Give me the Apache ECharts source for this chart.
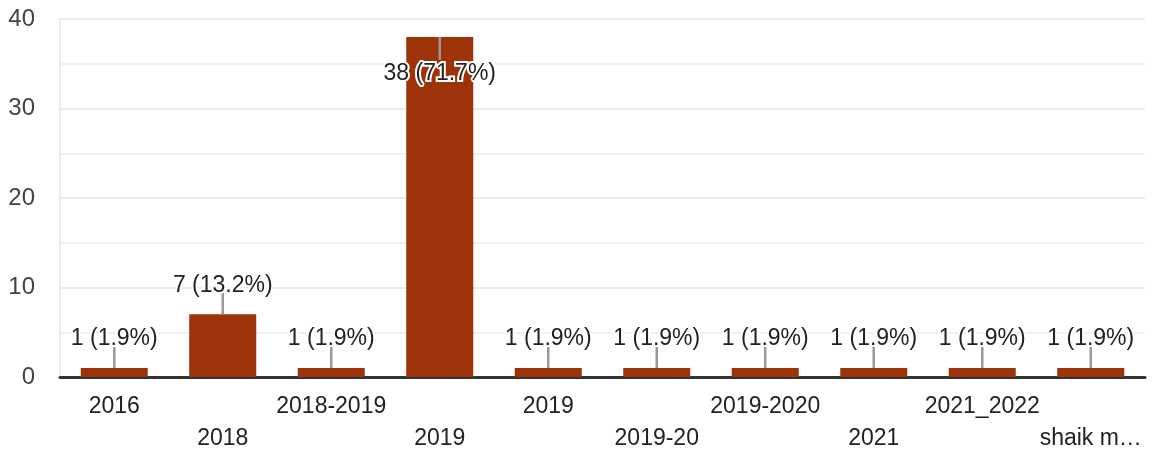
<!DOCTYPE html>
<html>
<head>
<meta charset="utf-8">
<script src="https://cdn.jsdelivr.net/npm/echarts@6/dist/echarts.min.js"></script>
<style>
  html, body { margin: 0; padding: 0; background: #fff; }
  #chart { width: 1152px; height: 450px; }
</style>
</head>
<body>
<div id="chart"></div>
<script>
// 类别和数值
const categories = ['2016', '2018', '2018-2019', '2019', '2019', '2019-20', '2019-2020', '2021', '2021_2022', 'shaik m…'];
const counts = [1, 7, 1, 38, 1, 1, 1, 1, 1, 1];
const percents = ['1.9', '13.2', '1.9', '71.7', '1.9', '1.9', '1.9', '1.9', '1.9', '1.9'];
const yTicks = [0, 10, 20, 30, 40];

const FONT = '"Liberation Sans", Arial, sans-serif';
const GRID_TOP = 19;
const STEM = 23;

const chart = echarts.init(document.getElementById('chart'));

// 标注线 + 文字
function renderStem(params, api) {
  const idx = api.value(0);
  const v = api.value(1);
  const p = api.coord([idx, v]);
  const up = p[1] - STEM - 24 > GRID_TOP;
  const end = up ? p[1] - STEM : p[1] + STEM;
  const ty = up ? end - 6 : end + 14;
  return {
    type: 'group',
    children: [
      {
        type: 'line',
        shape: { x1: p[0], y1: p[1], x2: p[0], y2: end },
        style: { stroke: '#999', lineWidth: 2.5 }
      },
      {
        type: 'text',
        z2: 10,
        style: {
          text: counts[idx] + ' (' + percents[idx] + '%)',
          x: p[0],
          y: ty,
          align: 'center',
          verticalAlign: 'middle',
          font: '23px ' + FONT,
          fill: '#222',
          stroke: '#fff',
          lineWidth: 4
        }
      }
    ]
  };
}

chart.setOption({
  animation: false,
  grid: { left: 60, right: 7, top: GRID_TOP, bottom: 73, outerBoundsMode: 'none' },
  xAxis: {
    type: 'category',
    data: categories,
    axisTick: { show: false },
    axisLine: { lineStyle: { color: '#333', width: 3 } },
    axisLabel: {
      interval: 0,
      margin: 14,
      fontSize: 23,
      lineHeight: 32,
      fontFamily: FONT,
      color: '#222',
      formatter: (v, i) => (i % 2 ? '\n' + v : v)
    }
  },
  yAxis: {
    type: 'value',
    min: yTicks[0],
    max: yTicks[yTicks.length - 1],
    interval: 10,
    axisLine: { show: true, lineStyle: { color: '#ebebeb', width: 2 } },
    axisTick: { show: false },
    axisLabel: { margin: 25, fontSize: 24, fontFamily: FONT, color: '#444' },
    splitLine: { lineStyle: { color: '#ebebeb', width: 2 } },
    minorTick: { show: false, splitNumber: 2 },
    minorSplitLine: { show: true, lineStyle: { color: '#f0f0f0', width: 2 } }
  },
  series: [
    {
      type: 'bar',
      data: counts,
      barWidth: 67,
      itemStyle: { color: '#9e3208' }
    },
    {
      type: 'custom',
      data: counts.map((v, i) => [i, v]),
      encode: { x: 0, y: 1 },
      clip: false,
      z: 5,
      renderItem: renderStem
    }
  ]
});
</script>
</body>
</html>
